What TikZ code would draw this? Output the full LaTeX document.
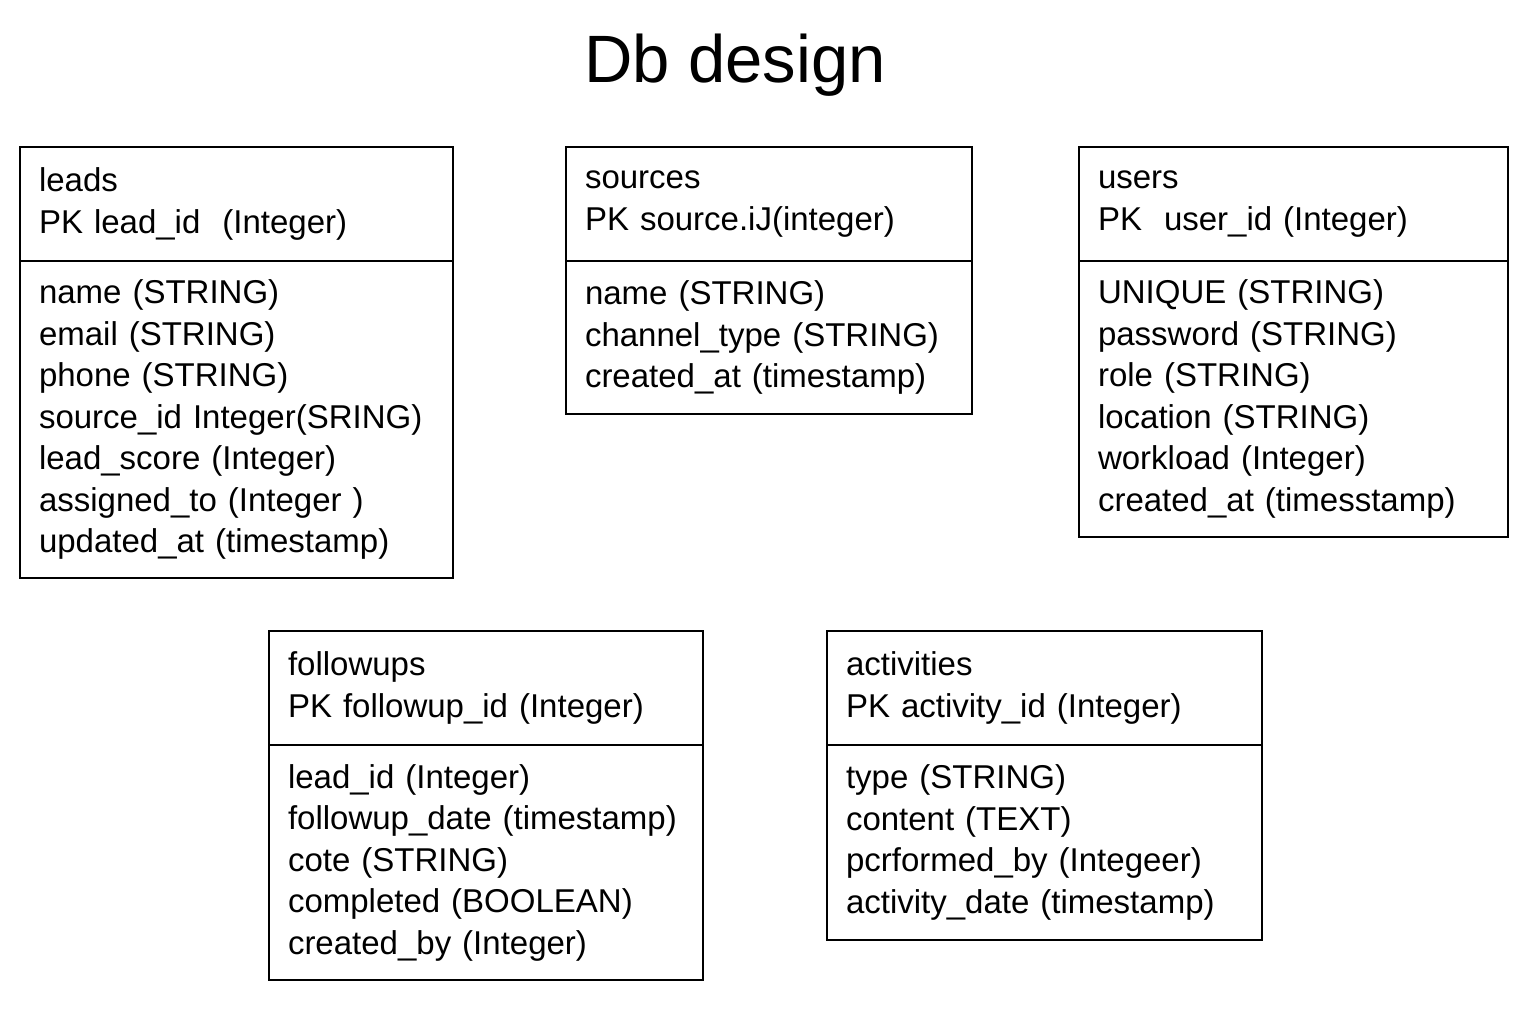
\documentclass[tikz,border=0pt]{standalone}
\usepackage{fontspec}
\setmainfont{Liberation Sans}
\usetikzlibrary{positioning}

\begin{document}
\begin{tikzpicture}[x=1pt,y=-1pt,
  node distance=0pt,
  tblhead/.style={draw,line width=2pt,outer sep=0pt,anchor=north west,
    inner xsep=19pt,inner ysep=0pt,align=left,minimum height=114pt,
    font=\fontsize{33}{41.5}\selectfont},
  tblbody/.style={tblhead,minimum height=#1}]
\useasboundingbox (0,0) rectangle (1536,1024);

\node[anchor=base,font=\fontsize{67}{80}\selectfont] (title) at (735,83) {Db design};

% top row
\node[tblhead, text width=395pt] (leads) at (20,147) {leads\\PK lead\_id~ (Integer)};
\node[tblbody=317pt, text width=395pt, below=of leads] (leadsbody)
  {name (STRING)\\email (STRING)\\phone (STRING)\\source\_id Integer(SRING)\\lead\_score (Integer)\\assigned\_to (Integer )\\updated\_at (timestamp)};

\node[tblhead, text width=368pt] (sources) at (566,147) {sources\\PK source.iJ(integer)};
\node[tblbody=153pt, text width=368pt, below=of sources] (sourcesbody)
  {name (STRING)\\channel\_type (STRING)\\created\_at (timestamp)};

\node[tblhead, text width=391pt] (users) at (1079,147) {users\\PK~ user\_id (Integer)};
\node[tblbody=276pt, text width=391pt, below=of users] (usersbody)
  {UNIQUE (STRING)\\password (STRING)\\role (STRING)\\location (STRING)\\workload (Integer)\\created\_at (timesstamp)};

% bottom row
\node[tblhead, text width=396pt] (followups) at (269,631) {followups\\PK followup\_id (Integer)};
\node[tblbody=235pt, text width=396pt, below=of followups] (followupsbody)
  {lead\_id (Integer)\\followup\_date (timestamp)\\cote (STRING)\\completed (BOOLEAN)\\created\_by (Integer)};

\node[tblhead, text width=397pt] (activities) at (827,631) {activities\\PK activity\_id (Integer)};
\node[tblbody=195pt, text width=397pt, below=of activities] (activitiesbody)
  {type (STRING)\\content (TEXT)\\pcrformed\_by (Integeer)\\activity\_date (timestamp)};

\end{tikzpicture}
\end{document}
